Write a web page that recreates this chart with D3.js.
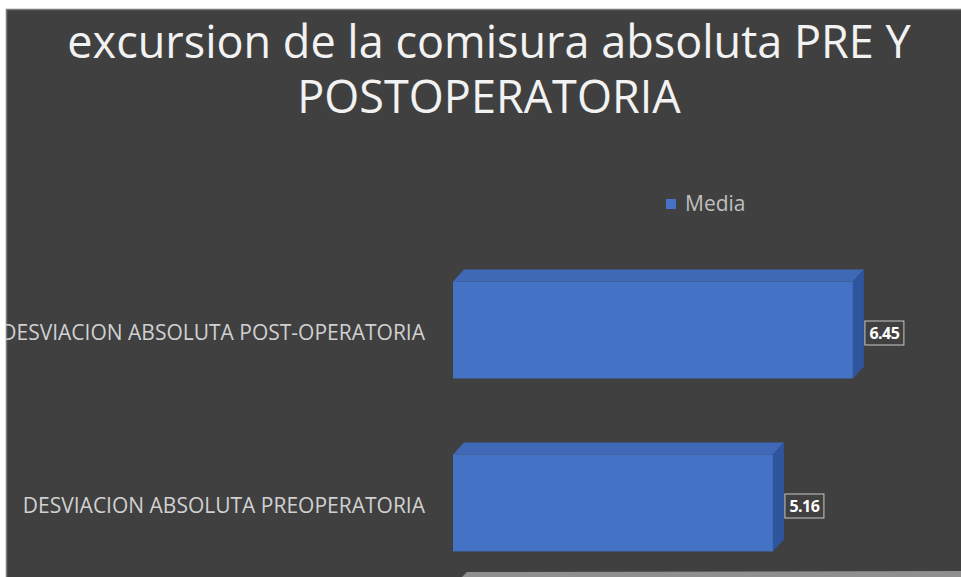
<!DOCTYPE html>
<html>
<head>
  <meta charset="utf-8">
  <script src="https://d3js.org/d3.v7.min.js"></script>
  <style>
    body { margin: 0; background: #fff; }
  </style>
</head>
<body>
  <div id="chart"></div>
  <script>

    // data
    var categories = ["DESVIACION ABSOLUTA PREOPERATORIA", "DESVIACION ABSOLUTA POST-OPERATORIA"]
    var values = [5.16, 6.45]
    var seriesName = "Media"
    var titleLines = ["excursion de la comisura absoluta PRE Y", "POSTOPERATORIA"]

    var W = 961, H = 577
    var depth = {dx: 11, dy: -12}
    var font = "'Open Sans', 'Noto Sans', sans-serif"

    var svg = d3.select("#chart").append("svg")
      .attr("width", W)
      .attr("height", H)

    svg.append("defs").append("clipPath").attr("id", "panel")
      .append("rect").attr("x", 6).attr("y", 9).attr("width", W - 6).attr("height", H - 9)

    // dark panel
    svg.append("rect")
      .attr("x", 6).attr("y", 9)
      .attr("width", W - 6).attr("height", H - 9)
      .attr("fill", "#404040")
    svg.append("path")
      .attr("d", "M6.5," + H + "V9.5H" + W)
      .attr("fill", "none")
      .attr("stroke", "#7a7a7a")
      .attr("stroke-width", 1.5)

    var g = svg.append("g").attr("clip-path", "url(#panel)")

    // title
    g.selectAll("text.title")
      .data(titleLines)
      .enter().append("text")
      .attr("class", "title")
      .attr("x", 489)
      .attr("y", function(d, i) { return 58 + i * 55 })
      .attr("text-anchor", "middle")
      .attr("fill", "#f2f2f2")
      .style("font-family", font)
      .style("font-size", "45px")
      .text(function(d) { return d })

    // legend
    g.append("rect")
      .attr("x", 666).attr("y", 199)
      .attr("width", 10).attr("height", 10)
      .attr("fill", "#4472C4")
    g.append("text")
      .attr("x", 685).attr("y", 211)
      .attr("fill", "#bfbfbf")
      .style("font-family", font)
      .style("font-size", "21px")
      .text(seriesName)

    // scales
    var x = d3.scaleLinear()
      .domain([0, 8])
      .range([453, 949])

    var y = d3.scaleBand()
      .domain(categories.slice().reverse())
      .range([243.5, 589.5])
      .paddingInner(0.44)
      .paddingOuter(0.22)

    var rows = categories.map(function(c, i) { return {cat: c, val: values[i]} })

    // floor of the 3d plot
    g.append("path")
      .attr("d", "M467,572L" + W + ",571L" + W + "," + H + "L462," + H + "Z")
      .attr("fill", "#8f8f8f")

    var bars = g.selectAll("g.bar")
      .data(rows)
      .enter().append("g")
      .attr("class", "bar")

    // top face
    bars.append("path")
      .attr("fill", "#3F69B7")
      .attr("d", function(d) {
        var x0 = x(0), x1 = x(d.val), y0 = y(d.cat)
        return "M" + x0 + "," + y0 + "L" + (x0 + depth.dx) + "," + (y0 + depth.dy) +
          "L" + (x1 + depth.dx) + "," + (y0 + depth.dy) + "L" + x1 + "," + y0 + "Z"
      })

    // side face
    bars.append("path")
      .attr("fill", "#2F559F")
      .attr("d", function(d) {
        var x1 = x(d.val), y0 = y(d.cat), y1 = y0 + y.bandwidth()
        return "M" + x1 + "," + y0 + "L" + (x1 + depth.dx) + "," + (y0 + depth.dy) +
          "L" + (x1 + depth.dx) + "," + (y1 + depth.dy) + "L" + x1 + "," + y1 + "Z"
      })

    // front face
    bars.append("rect")
      .attr("x", x(0))
      .attr("y", function(d) { return y(d.cat) })
      .attr("width", function(d) { return x(d.val) - x(0) })
      .attr("height", y.bandwidth())
      .attr("fill", "#4472C4")

    // category labels
    g.selectAll("text.cat")
      .data(rows)
      .enter().append("text")
      .attr("class", "cat")
      .attr("x", 425)
      .attr("y", function(d) { return y(d.cat) + y.bandwidth() / 2 + 9.5 })
      .attr("text-anchor", "end")
      .attr("fill", "#d0d0d0")
      .style("font-family", font)
      .style("font-size", "21px")
      .text(function(d) { return d.cat })

    // value labels with a boxed background
    var lab = g.selectAll("g.val")
      .data(rows)
      .enter().append("g")
      .attr("class", "val")
      .attr("transform", function(d) {
        return "translate(" + (x(d.val) + depth.dx + 1) + "," + (y(d.cat) + y.bandwidth() / 2 + 3) + ")"
      })
    lab.append("rect")
      .attr("x", 0).attr("y", -12)
      .attr("width", 39).attr("height", 24)
      .attr("fill", "#404040")
      .attr("stroke", "#c8c8c8")
      .attr("stroke-width", 1)
    lab.append("text")
      .attr("x", 19.5).attr("y", 6)
      .attr("text-anchor", "middle")
      .attr("fill", "#ffffff")
      .style("font-family", font)
      .style("font-size", "16px")
      .style("font-weight", "bold")
      .style("letter-spacing", "-0.5px")
      .text(function(d) { return d.val.toFixed(2) })

  </script>
</body>
</html>
